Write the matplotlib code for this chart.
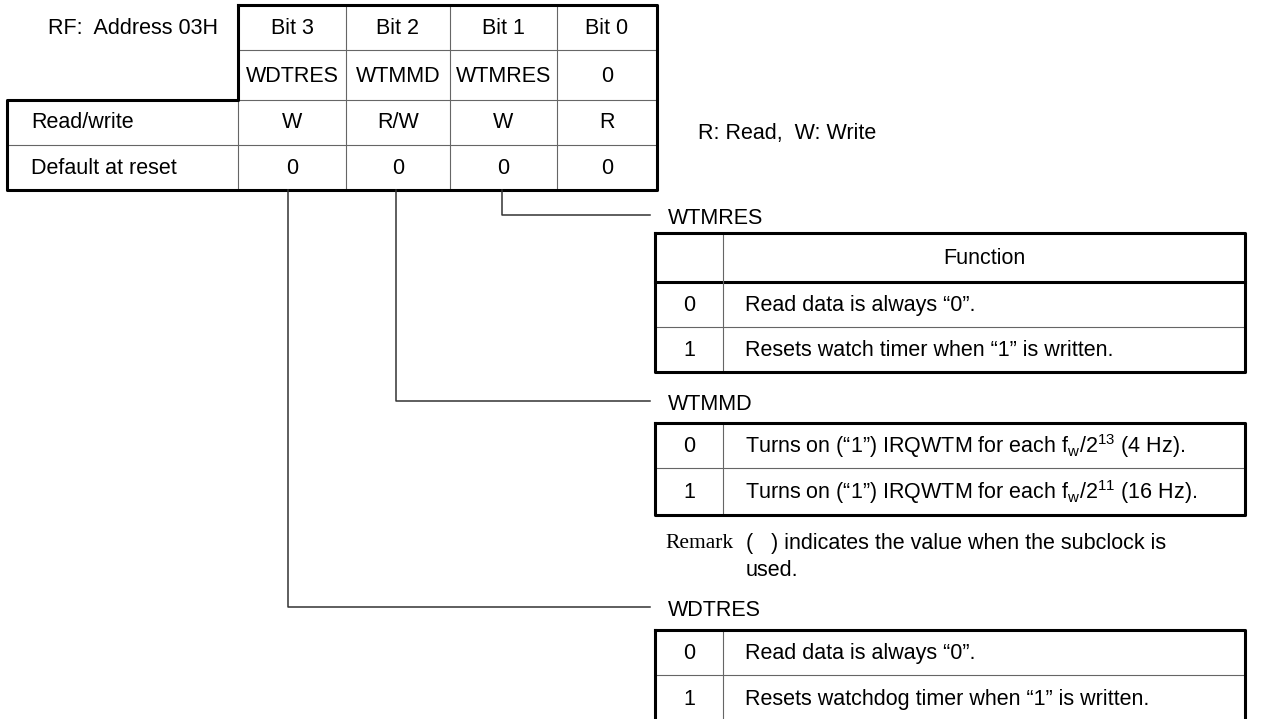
import matplotlib.pyplot as plt

plt.rcParams['font.family'] = ['Liberation Sans', 'DejaVu Sans']
plt.rcParams['mathtext.fontset'] = 'custom'
plt.rcParams['mathtext.rm'] = 'Liberation Sans'

# register data
bits = ['Bit 3', 'Bit 2', 'Bit 1', 'Bit 0']
names = ['WDTRES', 'WTMMD', 'WTMRES', '0']
rw = ['W', 'R/W', 'W', 'R']
defaults = ['0', '0', '0', '0']

wtmres_rows = [('0', 'Read data is always \u201c0\u201d.'),
               ('1', 'Resets watch timer when \u201c1\u201d is written.')]
wtmmd_rows = [('0', 'Turns on (\u201c1\u201d) IRQWTM for each f$\\mathregular{_w}$/2$\\mathregular{^{13}}$ (4 Hz).'),
              ('1', 'Turns on (\u201c1\u201d) IRQWTM for each f$\\mathregular{_w}$/2$\\mathregular{^{11}}$ (16 Hz).')]
wdtres_rows = [('0', 'Read data is always \u201c0\u201d.'),
               ('1', 'Resets watchdog timer when \u201c1\u201d is written.')]

FS = 15.5
THICK = 2.2
THIN = 0.8
GRAY = '#666666'

fig = plt.figure(figsize=(12.74, 7.19), dpi=100)
ax = fig.add_axes([0, 0, 1, 1])
ax.set_xlim(0, 1274)
ax.set_ylim(719, 0)
ax.axis('off')


def line(xs, ys, lw=THIN, c=GRAY):
    ax.plot(xs, ys, color=c, lw=lw, solid_capstyle='projecting')


# ---- top register table ----
col = [238, 346, 450, 557, 657]
rows = [5, 50, 100, 145, 190]
left = 7

for x in col[1:-1]:
    line([x, x], [rows[0], rows[-1]])
line([left, col[-1]], [rows[3], rows[3]])
line([col[0], col[-1]], [rows[1], rows[1]])
line([col[0], col[-1]], [rows[2], rows[2]])
line([col[0], col[0]], [rows[2], rows[-1]])
# outer border (stepped)
line([col[0], col[-1], col[-1], left, left, col[0], col[0]],
     [rows[0], rows[0], rows[-1], rows[-1], rows[2], rows[2], rows[0]], lw=THICK, c='black')

ax.text(218, 28, 'RF:  Address 03H', ha='right', va='center', fontsize=FS)
ax.text(31, 123, 'Read/write', ha='left', va='center', fontsize=FS)
ax.text(31, 168, 'Default at reset', ha='left', va='center', fontsize=FS)
for i in range(4):
    cx = (col[i] + col[i + 1]) / 2
    ax.text(cx, 28, bits[i], ha='center', va='center', fontsize=FS)
    ax.text(cx, 76, names[i], ha='center', va='center', fontsize=FS)
    ax.text(cx, 123, rw[i], ha='center', va='center', fontsize=FS)
    ax.text(cx, 168, defaults[i], ha='center', va='center', fontsize=FS)

ax.text(698, 134, 'R: Read,  W: Write', ha='left', va='center', fontsize=FS)

# ---- connectors ----
conn_x = [502, 396, 288]
conn_y = [215, 401, 607]
conn_lbl = ['WTMRES', 'WTMMD', 'WDTRES']
for x, y, lbl in zip(conn_x, conn_y, conn_lbl):
    line([x, x, 650], [rows[-1], y, y], lw=1.1, c='#333333')
    ax.text(668, y + 3, lbl, ha='left', va='center', fontsize=FS)

# ---- function tables ----
tx0, tx1, tmid = 655, 1245, 723


def func_table(top, row_lines, bottom, entries, header=None):
    edges = [top] + row_lines + [bottom]
    for j, y in enumerate(row_lines):
        if header is not None and j == 0:
            line([tx0, tx1], [y, y], lw=THICK, c='black')
        else:
            line([tx0, tx1], [y, y])
    line([tmid, tmid], [top, bottom])
    line([tx0, tx1, tx1, tx0, tx0], [top, top, bottom, bottom, top], lw=THICK, c='black')
    k = 0
    if header is not None:
        ax.text((tmid + tx1) / 2, (edges[0] + edges[1]) / 2 + 1, header,
                ha='center', va='center', fontsize=FS)
        k = 1
    for (v, txt), i in zip(entries, range(k, len(edges) - 1)):
        cy = (edges[i] + edges[i + 1]) / 2 + 1
        ax.text((tx0 + tmid) / 2, cy, v, ha='center', va='center', fontsize=FS)
        ax.text(745, cy, txt, ha='left', va='center', fontsize=FS)


func_table(233, [282, 327], 372, wtmres_rows, header='Function')
func_table(423, [468], 515, wtmmd_rows)
func_table(630, [675], 722, wdtres_rows)

ax.text(665, 544, 'Remark', ha='left', va='center', fontsize=FS,
        family=['Liberation Serif', 'DejaVu Serif'])
ax.text(746, 543, '(   ) indicates the value when the subclock is',
        ha='left', va='center', fontsize=FS)
ax.text(746, 570, 'used.', ha='left', va='center', fontsize=FS)

fig.savefig('out.png', dpi=100)
